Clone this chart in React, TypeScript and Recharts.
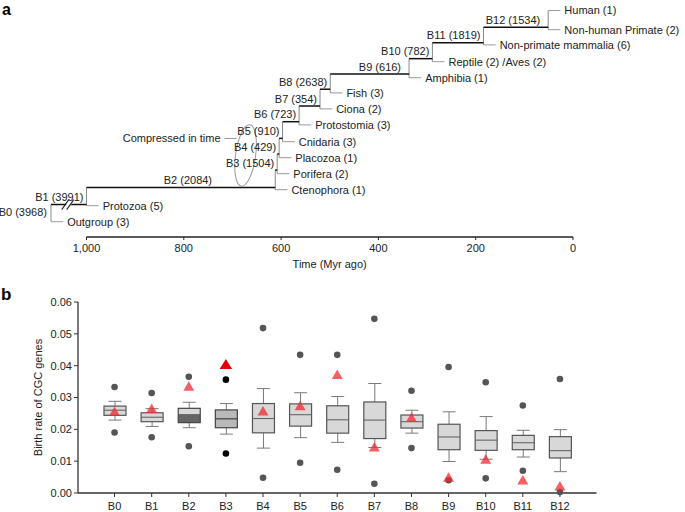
import React from 'react';
import { ScatterChart, Scatter, XAxis, YAxis, ComposedChart, Bar } from 'recharts';

const FONT = '"Liberation Sans", Arial, Helvetica, sans-serif';

// ================= Panel a: dated tree =================
const branchNames = ['B0', 'B1', 'B2', 'B3', 'B4', 'B5', 'B6', 'B7', 'B8', 'B9', 'B10', 'B11', 'B12'];
const branchGeneCounts = [3968, 3991, 2084, 1504, 429, 910, 723, 354, 2638, 616, 782, 1819, 1534];
// node ages (Myr ago) of the node each branch leads to
const nodeTimes = [1073, 1000, 612, 608, 604, 597, 563, 520, 499, 337, 289, 184, 51];
// row (leaf-order units) where each branch runs
const branchRows = [0.6, 1.07, 2.13, 3.23, 4.23, 5.21, 6.25, 7.23, 8.28, 9.23, 10.19, 11.19, 12.15];
const leafNames = [
  'Outgroup (3)', 'Protozoa (5)', 'Ctenophora (1)', 'Porifera (2)', 'Placozoa (1)', 'Cnidaria (3)',
  'Protostomia (3)', 'Ciona (2)', 'Fish (3)', 'Amphibia (1)', 'Reptile (2) /Aves (2)',
  'Non-primate mammalia (6)', 'Non-human Primate (2)', 'Human (1)',
];
const leafRows = [0, 1, 2, 3, 4, 5, 6.05, 7.05, 8.05, 9, 10, 11.05, 12, 13.2];
const leafParents = [0, 1, 2, 3, 4, 5, 6, 7, 8, 9, 10, 11, 12, 12];
const timeTicks = [0, 200, 400, 600, 800, 1000];
const compressedSpot = [{ x: 673, y: 4.14 }];
const compressedNote = 'Compressed in time';

// ================= Panel b: box plots =================
const categories = branchNames;
const outlierLow = [0.019, 0.0175, 0.0147, 0.0124, 0.0048, 0.0095, 0.0073, 0.0029, 0.0141, 0.004, 0.0046, 0.007, 0.0003];
const whiskerLow = [0.0229, 0.0209, 0.0205, 0.0185, 0.0141, 0.0174, 0.0159, 0.0143, 0.0188, 0.0099, 0.0106, 0.0113, 0.0067];
const q1 = [0.0244, 0.0224, 0.0221, 0.0205, 0.0189, 0.021, 0.0188, 0.0171, 0.0204, 0.0136, 0.0134, 0.0136, 0.011];
const median = [0.026, 0.0238, 0.0248, 0.0233, 0.0234, 0.0246, 0.023, 0.0229, 0.0224, 0.0176, 0.0166, 0.0158, 0.0133];
const q3 = [0.0273, 0.0252, 0.0266, 0.0261, 0.0281, 0.028, 0.0274, 0.0286, 0.0245, 0.0216, 0.0196, 0.0181, 0.0177];
const whiskerHigh = [0.0288, 0.0265, 0.0285, 0.0281, 0.0328, 0.0315, 0.0303, 0.0344, 0.026, 0.0255, 0.024, 0.0197, 0.0199];
const outlierHigh = [0.0333, 0.0314, 0.0365, 0.0356, 0.0518, 0.0434, 0.0434, 0.0547, 0.0321, 0.0396, 0.0348, 0.0275, 0.0358];
const cgcRate = [0.0257, 0.0266, 0.0336, 0.0405, 0.0258, 0.0275, 0.0373, 0.0145, 0.0238, 0.005, 0.0107, 0.0042, 0.0023];
const rateTicks = [0, 0.01, 0.02, 0.03, 0.04, 0.05, 0.06];

// ---------- styles ----------
const SPLIT_BOX = 'B2';
const DARK_BOX = 'B3';
const X_DOMAIN: [number, number] = [-177.6, 1177.8];
const Y_DOMAIN: [number, number] = [-0.956, 13.856];
const STUB = 25;

// ---------- derived tree geometry (data units) ----------
const branchSegments = nodeTimes.slice(1).map((t, i) => [
  { x: nodeTimes[i], y: branchRows[i + 1] },
  { x: t, y: branchRows[i + 1] },
]);
const nodeSegments = nodeTimes.map((t, k) => {
  const ys: number[] = [];
  leafParents.forEach((p, i) => { if (p === k) ys.push(leafRows[i]); });
  if (k + 1 < nodeTimes.length) ys.push(branchRows[k + 1]);
  return [{ x: t, y: Math.min(...ys) }, { x: t, y: Math.max(...ys) }];
});
const leafSegments = leafNames.map((_, i) => {
  const t = nodeTimes[leafParents[i]];
  return [{ x: t, y: leafRows[i] }, { x: t - STUB, y: leafRows[i] }];
});
const leafLabelData = leafNames.map((name, i) => ({ x: nodeTimes[leafParents[i]] - STUB, y: leafRows[i], name }));
const branchLabelData = branchNames.map((n, k) => {
  const text = `${n} (${branchGeneCounts[k]})`;
  if (k === 0) return { x: nodeTimes[0], y: branchRows[0], text, anchor: 'end', dx: -4, mid: true };
  const parent = nodeTimes[k - 1];
  const child = nodeTimes[k];
  const len = parent - child;
  if (len > 300) return { x: (parent + child) / 2, y: branchRows[k], text, anchor: 'middle', dx: 7, mid: false };
  return { x: child, y: branchRows[k], text, anchor: 'end', dx: len > 120 ? -8 : -3, mid: false };
});
const breakData = [{ x: (nodeTimes[0] + nodeTimes[1]) / 2, y: branchRows[1] }];
const axisData = [
  { x: timeTicks[timeTicks.length - 1], y: Y_DOMAIN[0] },
  { x: timeTicks[0], y: Y_DOMAIN[0] },
];

const Empty = () => <g />;

const LeafLabel = (p: any) => (
  <text x={p.cx + 4} y={p.cy} dy="0.35em" fontSize={11} fill="#222" fontFamily={FONT}>
    {p.payload.name}
  </text>
);

const BranchLabel = (p: any) => {
  const d = p.payload;
  return (
    <text
      x={p.cx + d.dx}
      y={d.mid ? p.cy : p.cy - 3.5}
      dy={d.mid ? '0.35em' : 0}
      textAnchor={d.anchor}
      fontSize={11}
      fill="#222"
      fontFamily={FONT}
    >
      {d.text}
    </text>
  );
};

const BreakMark = (p: any) => {
  const { cx, cy } = p;
  return (
    <g>
      <polygon points={`${cx - 5},${cy + 5} ${cx},${cy + 5} ${cx + 5},${cy - 5} ${cx},${cy - 5}`} fill="#fff" />
      <line x1={cx - 7} y1={cy + 5} x2={cx} y2={cy - 5} stroke="#222" strokeWidth={1.1} />
      <line x1={cx - 2} y1={cy + 5} x2={cx + 5} y2={cy - 5} stroke="#222" strokeWidth={1.1} />
    </g>
  );
};

const CompressedMark = (p: any) => {
  const { cx, cy } = p;
  return (
    <g>
      <ellipse cx={cx} cy={cy} rx={10} ry={31} transform={`rotate(8 ${cx} ${cy})`} fill="none" stroke="#999" strokeWidth={1} />
      <line x1={cx - 21} x2={cx - 9} y1={cy - 17} y2={cy - 17} stroke="#999" strokeWidth={1} />
      <text x={cx - 25} y={cy - 17} dy="0.35em" textAnchor="end" fontSize={11} fill="#222" fontFamily={FONT}>
        {compressedNote}
      </text>
    </g>
  );
};

const TreePanel = () => (
  <ScatterChart width={685} height={276} margin={{ top: 0, right: 25.6, left: 0, bottom: 0 }}>
    <XAxis
      type="number"
      dataKey="x"
      domain={X_DOMAIN}
      reversed
      ticks={timeTicks}
      interval={0}
      tickFormatter={(v: number) => v.toLocaleString('en-US')}
      axisLine={false}
      tickLine={{ stroke: '#222' }}
      tickSize={3}
      tickMargin={4}
      height={39}
      tick={{ fontSize: 11, fill: '#222', fontFamily: FONT }}
      label={{ value: 'Time (Myr ago)', position: 'insideBottom', offset: 8, style: { fontSize: 11, fill: '#222', fontFamily: FONT } }}
    />
    <YAxis type="number" dataKey="y" domain={Y_DOMAIN} hide />
    <Scatter data={axisData} line={{ stroke: '#222', strokeWidth: 1.4 }} shape={Empty} isAnimationActive={false} />
    {nodeSegments.map((seg, i) => (
      <Scatter key={`n${i}`} data={seg} line={{ stroke: '#888', strokeWidth: 1 }} shape={Empty} isAnimationActive={false} />
    ))}
    {leafSegments.map((seg, i) => (
      <Scatter key={`l${i}`} data={seg} line={{ stroke: '#999', strokeWidth: 1 }} shape={Empty} isAnimationActive={false} />
    ))}
    {branchSegments.map((seg, i) => (
      <Scatter key={`b${i}`} data={seg} line={{ stroke: '#111', strokeWidth: 1.5 }} shape={Empty} isAnimationActive={false} />
    ))}
    <Scatter data={breakData} shape={BreakMark} isAnimationActive={false} />
    <Scatter data={compressedSpot} shape={CompressedMark} isAnimationActive={false} />
    <Scatter data={leafLabelData} shape={LeafLabel} isAnimationActive={false} />
    <Scatter data={branchLabelData} shape={BranchLabel} isAnimationActive={false} />
  </ScatterChart>
);

// ---------- panel b ----------
const boxData = categories.map((name, i) => ({
  name,
  q1: q1[i],
  median: median[i],
  q3: q3[i],
  whiskerLow: whiskerLow[i],
  whiskerHigh: whiskerHigh[i],
  outlierLow: outlierLow[i],
  outlierHigh: outlierHigh[i],
  cgcRate: cgcRate[i],
  box: [q1[i], q3[i]],
}));

const BoxShape = (props: any) => {
  const { x, y, width, height, payload } = props;
  if (!payload) return <g />;
  const top = Math.min(y, y + height);
  const bottom = Math.max(y, y + height);
  const k = (bottom - top) / (payload.q3 - payload.q1);
  const Y = (v: number) => bottom - (v - payload.q1) * k;
  const cx = x + width / 2;
  const cap = 6.5;
  const wc = '#7a7a7a';
  const edge = '#555';
  const isSplit = payload.name === SPLIT_BOX;
  const isDark = payload.name === DARK_BOX;
  const lightFill = '#d8d8d8';
  const midY = Y(payload.median);
  return (
    <g>
      <line x1={cx} x2={cx} y1={Y(payload.whiskerHigh)} y2={top} stroke={wc} strokeWidth={1} />
      <line x1={cx} x2={cx} y1={bottom} y2={Y(payload.whiskerLow)} stroke={wc} strokeWidth={1} />
      <line x1={cx - cap} x2={cx + cap} y1={Y(payload.whiskerHigh)} y2={Y(payload.whiskerHigh)} stroke={wc} strokeWidth={1} />
      <line x1={cx - cap} x2={cx + cap} y1={Y(payload.whiskerLow)} y2={Y(payload.whiskerLow)} stroke={wc} strokeWidth={1} />
      {isSplit ? (
        <g>
          <rect x={x} y={top} width={width} height={midY - top} fill={lightFill} />
          <rect x={x} y={midY} width={width} height={bottom - midY} fill="#656565" />
          <rect x={x} y={top} width={width} height={bottom - top} fill="none" stroke="#444" strokeWidth={1.2} />
        </g>
      ) : (
        <g>
          <rect x={x} y={top} width={width} height={bottom - top} fill={isDark ? '#b9b9b9' : lightFill} stroke={isDark ? '#444' : edge} strokeWidth={1.2} />
          <line x1={x} x2={x + width} y1={midY} y2={midY} stroke={isDark ? '#333' : '#666'} strokeWidth={1.1} />
        </g>
      )}
    </g>
  );
};

const OutlierDot = (p: any) => (
  <circle cx={p.cx} cy={p.cy} r={3.3} fill={p.payload && p.payload.name === DARK_BOX ? '#000' : '#555'} />
);

const Triangle = (p: any) => {
  const big = p.payload && p.payload.name === DARK_BOX;
  const w = big ? 12.5 : 11;
  const h = big ? 10 : 9.5;
  const { cx, cy } = p;
  return (
    <polygon
      points={`${cx - w / 2},${cy + h / 2} ${cx + w / 2},${cy + h / 2} ${cx},${cy - h / 2}`}
      fill={big ? '#e3000b' : '#ee2a30'}
      fillOpacity={big ? 1 : 0.75}
    />
  );
};

const BoxPanel = () => (
  <ComposedChart width={685} height={236} data={boxData} margin={{ top: 26, right: 88.5, left: 18, bottom: 0 }}>
    <XAxis
      dataKey="name"
      padding={{ left: 18, right: 18 }}
      height={19}
      tickSize={4}
      tickMargin={5}
      interval={0}
      tick={{ fontSize: 11, fill: '#222', fontFamily: FONT }}
      axisLine={{ stroke: '#333', strokeWidth: 1.3 }}
      tickLine={{ stroke: '#333' }}
    />
    <XAxis xAxisId="top" orientation="top" dataKey="name" height={0} tick={false} tickLine={false} axisLine={{ stroke: '#888', strokeWidth: 1.2 }} />
    <YAxis
      type="number"
      domain={[0, 0.06]}
      ticks={rateTicks}
      interval={0}
      tickFormatter={(v: number) => v.toFixed(2)}
      width={60}
      tickSize={4}
      tick={{ fontSize: 11, fill: '#222', fontFamily: FONT }}
      axisLine={{ stroke: '#333', strokeWidth: 1.3 }}
      tickLine={{ stroke: '#333' }}
      label={{ value: 'Birth rate of CGC genes', angle: -90, position: 'insideLeft', offset: 20, style: { textAnchor: 'middle', fontSize: 11, fill: '#222', fontFamily: FONT } }}
    />
    <YAxis yAxisId="right" orientation="right" domain={[0, 1]} width={0} tick={false} tickLine={false} axisLine={{ stroke: '#888', strokeWidth: 1.2 }} />
    <Bar dataKey="box" barSize={22} shape={BoxShape} isAnimationActive={false} activeBar={false} />
    <Scatter dataKey="outlierHigh" shape={OutlierDot} isAnimationActive={false} />
    <Scatter dataKey="outlierLow" shape={OutlierDot} isAnimationActive={false} />
    <Scatter dataKey="cgcRate" shape={Triangle} isAnimationActive={false} />
  </ComposedChart>
);

export default function App() {
  return (
    <div style={{ position: 'relative', width: 685, height: 512, background: '#fff', fontFamily: FONT }}>
      <style>{'html,body{margin:0;padding:0;}'}</style>
      <div style={{ position: 'absolute', left: 0, top: 0 }}>
        <TreePanel />
      </div>
      <div style={{ position: 'absolute', left: 0, top: 276 }}>
        <BoxPanel />
      </div>
      <svg style={{ position: 'absolute', left: 0, top: 0, pointerEvents: 'none' }} width={685} height={512}>
        <text x={2} y={15} fontSize={16} fontWeight="bold" fontFamily={FONT} fill="#000">a</text>
        <text x={1} y={300} fontSize={17} fontWeight="bold" fontFamily={FONT} fill="#000">b</text>
      </svg>
    </div>
  );
}
